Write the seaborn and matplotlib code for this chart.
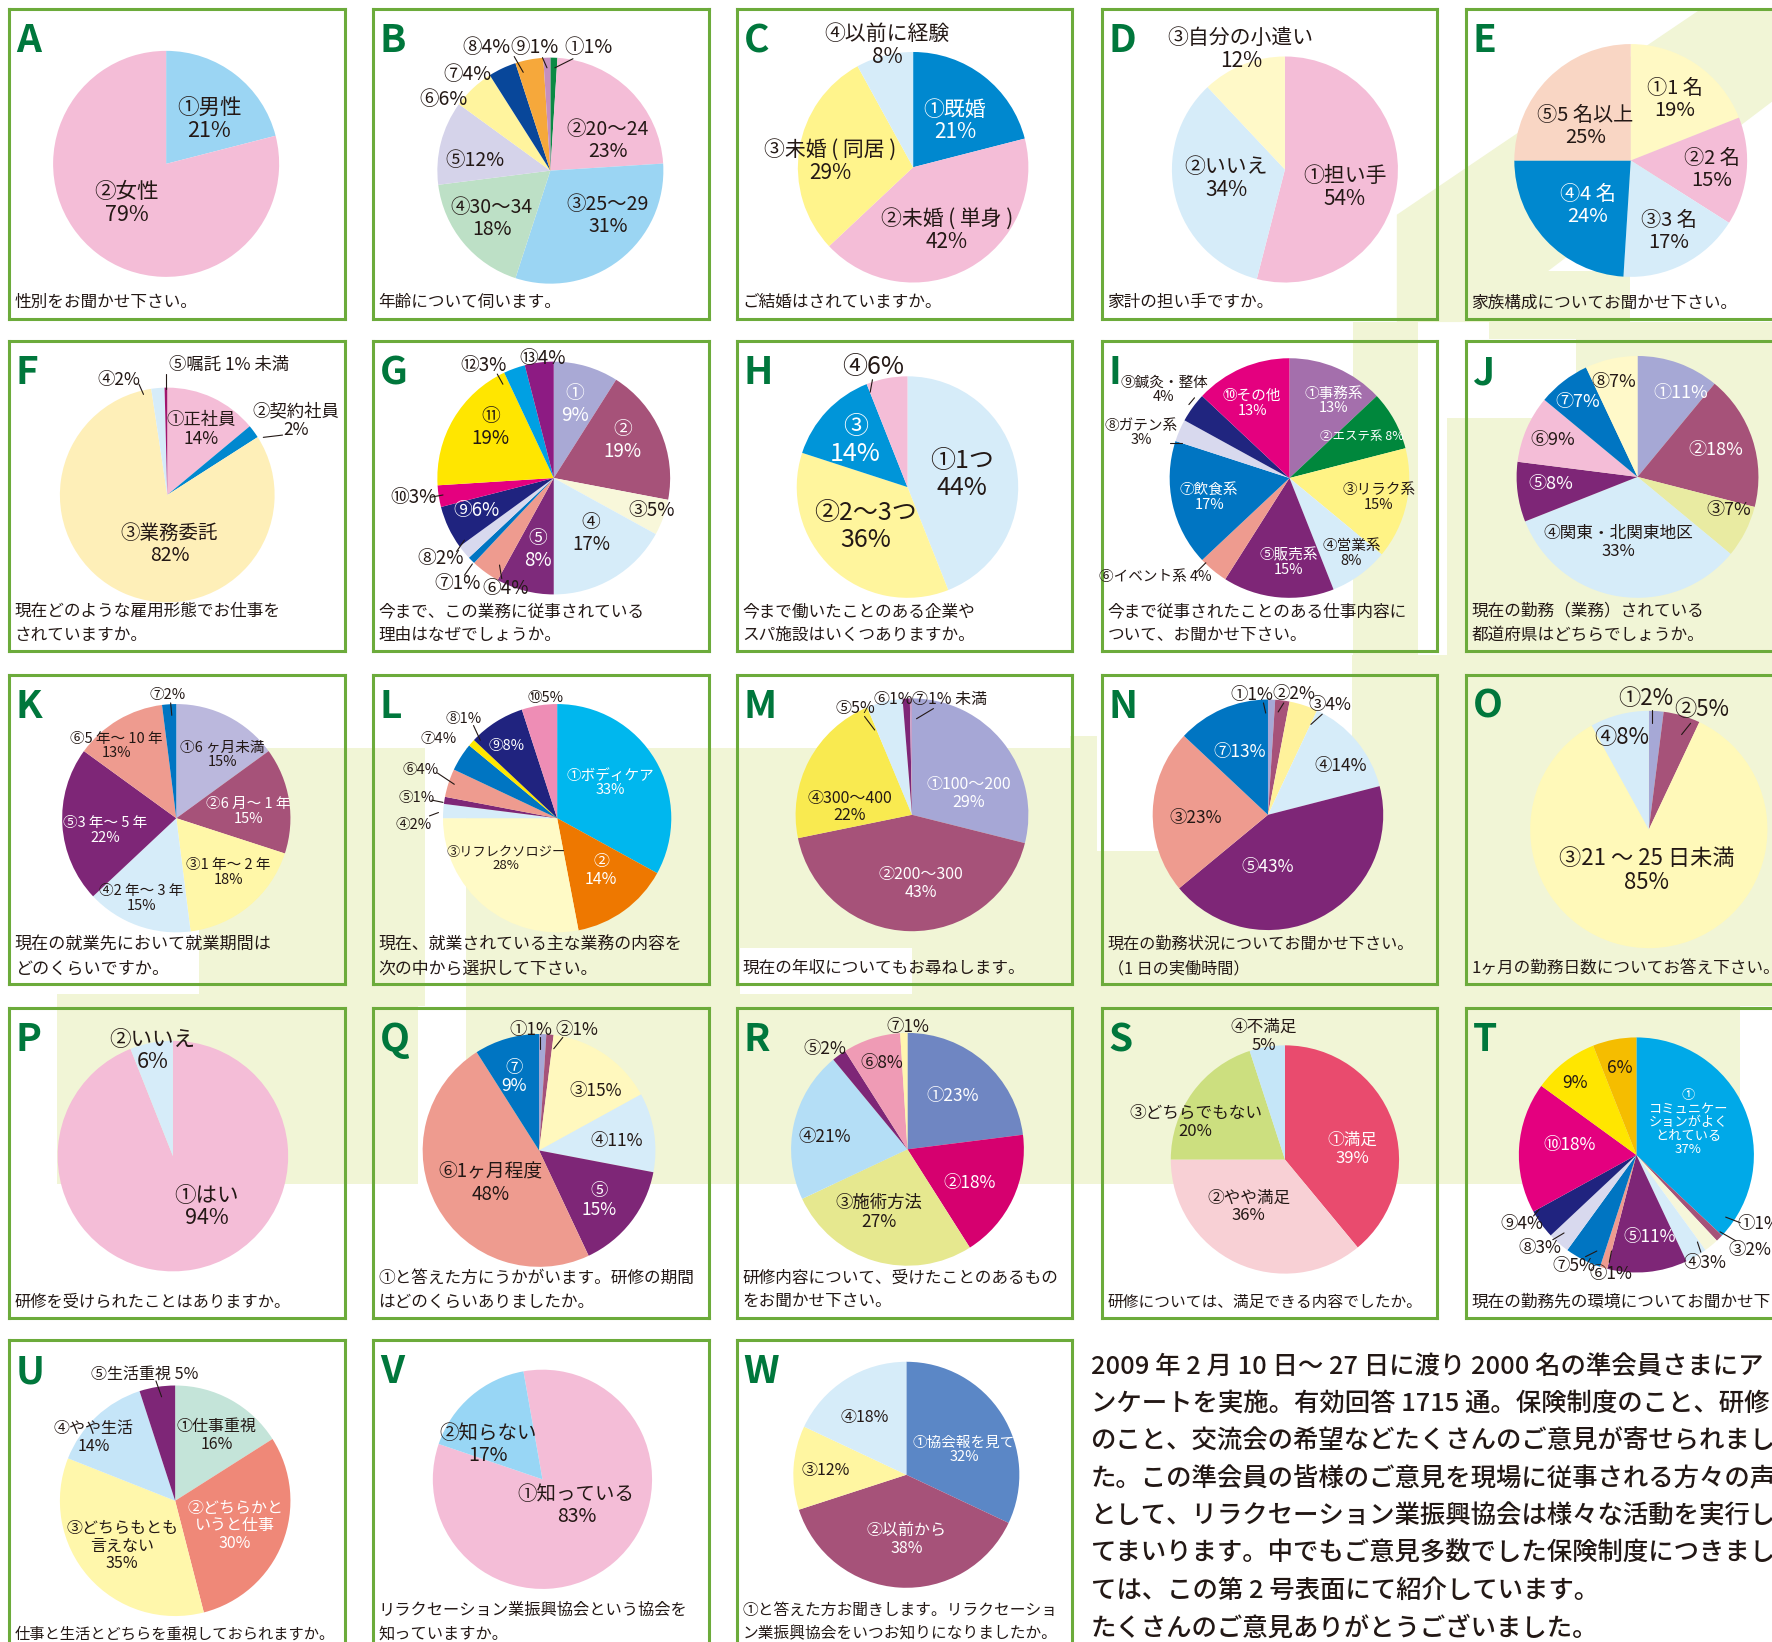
import numpy as np
import pandas as pd
import matplotlib
matplotlib.use("Agg")
import matplotlib.pyplot as plt
from matplotlib.patches import Rectangle, Polygon
import seaborn as sns

# ---------------------------------------------------------------- data
letters = list("ABCDEFGHIJKLMNOPQRSTUVW")
questions = [
    "性別をお聞かせ下さい。",
    "年齢について伺います。",
    "ご結婚はされていますか。",
    "家計の担い手ですか。",
    "家族構成についてお聞かせ下さい。",
    "現在どのような雇用形態でお仕事を\nされていますか。",
    "今まで、この業務に従事されている\n理由はなぜでしょうか。",
    "今まで働いたことのある企業や\nスパ施設はいくつありますか。",
    "今まで従事されたことのある仕事内容に\nついて、お聞かせ下さい。",
    "現在の勤務（業務）されている\n都道府県はどちらでしょうか。",
    "現在の就業先において就業期間は\nどのくらいですか。",
    "現在、就業されている主な業務の内容を\n次の中から選択して下さい。",
    "現在の年収についてもお尋ねします。",
    "現在の勤務状況についてお聞かせ下さい。\n（1 日の実働時間）",
    "1ヶ月の勤務日数についてお答え下さい。",
    "研修を受けられたことはありますか。",
    "①と答えた方にうかがいます。研修の期間\nはどのくらいありましたか。",
    "研修内容について、受けたことのあるもの\nをお聞かせ下さい。",
    "研修については、満足できる内容でしたか。",
    "現在の勤務先の環境についてお聞かせ下さい。",
    "仕事と生活とどちらを重視しておられますか。",
    "リラクセーション業振興協会という協会を\n知っていますか。",
    "①と答えた方お聞きします。リラクセーショ\nン業振興協会をいつお知りになりましたか。",
]

A_labels = ["①男性\n21%", "②女性\n79%"]
A_values = [21, 79]
A_colors = ["#9BD5F3", "#F4BDD7"]

B_labels = ["①1%", "②20～24\n23%", "③25～29\n31%", "④30～34\n18%", "⑤12%",
            "⑥6%", "⑦4%", "⑧4%", "⑨1%"]
B_values = [1, 23, 31, 18, 12, 6, 4, 4, 1]
B_colors = ["#0B8A45", "#F4BDD7", "#9BD5F3", "#BDE0C6", "#D5D3EA",
            "#FFF49E", "#08479A", "#F6A83B", "#C58FBF"]

C_labels = ["①既婚\n21%", "②未婚 ( 単身 )\n42%", "③未婚 ( 同居 )\n29%", "④以前に経験\n8%"]
C_values = [21, 42, 29, 8]
C_colors = ["#0088CF", "#F4BDD7", "#FFF48C", "#D6ECF9"]

D_labels = ["①担い手\n54%", "②いいえ\n34%", "③自分の小遣い\n12%"]
D_values = [54, 34, 12]
D_colors = ["#F4BDD7", "#D6ECF9", "#FFF9C8"]

E_labels = ["①1 名\n19%", "②2 名\n15%", "③3 名\n17%", "④4 名\n24%", "⑤5 名以上\n25%"]
E_values = [19, 15, 17, 24, 25]
E_colors = ["#FFF9C4", "#F4BDD7", "#D6ECF9", "#0088CF", "#F9D6C4"]

F_labels = ["①正社員\n14%", "②契約社員\n2%", "③業務委託\n82%", "④2%", "⑤嘱託 1% 未満"]
F_values = [14, 2, 82, 2, 0.4]
F_colors = ["#F4BDD7", "#0088CF", "#FEEFB8", "#D6ECF9", "#A0166E"]

G_labels = ["①\n9%", "②\n19%", "③5%", "④\n17%", "⑤\n8%", "⑥4%", "⑦1%", "⑧2%",
            "⑨6%", "⑩3%", "⑪\n19%", "⑫3%", "⑬4%"]
G_values = [9, 19, 5, 17, 8, 4, 1, 2, 6, 3, 19, 3, 4]
G_colors = ["#A9A9D5", "#A65279", "#F8F7DA", "#D6ECF9", "#7E2A7B", "#EE9B8F", "#0075C2",
            "#D8D9EE", "#1F237F", "#E5007F", "#FFE600", "#00A0E3", "#8D1B83"]

H_labels = ["①1つ\n44%", "②2～3つ\n36%", "③\n14%", "④6%"]
H_values = [44, 36, 14, 6]
H_colors = ["#D6ECF9", "#FFF59D", "#0095D9", "#F4BDD7"]

I_labels = ["①事務系\n13%", "②エステ系 8%", "③リラク系\n15%", "④営業系\n8%", "⑤販売系\n15%",
            "⑥イベント系 4%", "⑦飲食系\n17%", "⑧ガテン系\n3%", "⑨鍼灸・整体\n4%", "⑩その他\n13%"]
I_values = [13, 8, 15, 8, 15, 4, 17, 3, 4, 13]
I_colors = ["#A46FAC", "#00873C", "#FFF385", "#D6ECF9", "#7E2677",
            "#EE9B8F", "#0075C2", "#D8D9EE", "#20257F", "#E4007F"]

J_labels = ["①11%", "②18%", "③7%", "④関東・北関東地区\n33%", "⑤8%", "⑥9%", "⑦7%", "⑧7%"]
J_values = [11, 18, 7, 33, 8, 9, 7, 7]
J_colors = ["#A6A8D5", "#A65279", "#E9EBA2", "#D6ECF9", "#7E2677", "#F4BDD7", "#0075C2", "#FFF9C9"]

K_labels = ["①6 ヶ月未満\n15%", "②6 月～ 1 年\n15%", "③1 年～ 2 年\n18%", "④2 年～ 3 年\n15%",
            "⑤3 年～ 5 年\n22%", "⑥5 年～ 10 年\n13%", "⑦2%"]
K_values = [15, 15, 18, 15, 22, 13, 2]
K_colors = ["#BBB8DD", "#A65279", "#FFF7A8", "#D6ECF9", "#7E2677", "#EE9B8F", "#0075C2"]

L_labels = ["①ボディケア\n33%", "②\n14%", "③リフレクソロジー\n28%", "④2%", "⑤1%", "⑥4%",
            "⑦4%", "⑧1%", "⑨8%", "⑩5%"]
L_values = [33, 14, 28, 2, 1, 4, 4, 1, 8, 5]
L_colors = ["#00B7EE", "#EE7800", "#FFFAC6", "#D6ECF9", "#7E2677", "#EE9B8F",
            "#0075C2", "#FFE600", "#20237F", "#EE8DB5"]

M_labels = ["①100～200\n29%", "②200～300\n43%", "④300～400\n22%", "⑤5%", "⑥1%", "⑦1% 未満"]
M_values = [29, 43, 22, 5, 1, 0.3]
M_colors = ["#A6A7D6", "#A65279", "#F9EA50", "#D6ECF9", "#7E2677", "#C8A0C8"]

N_labels = ["①1%", "②2%", "③4%", "④14%", "⑤43%", "③23%", "⑦13%"]
N_values = [1, 2, 4, 14, 43, 23, 13]
N_colors = ["#A6A8D6", "#A65279", "#FFF29B", "#D6ECF9", "#7E2677", "#EE9B8F", "#0075C2"]

O_labels = ["①2%", "②5%", "③21 ～ 25 日未満\n85%", "④8%"]
O_values = [2, 5, 85, 8]
O_colors = ["#A6A8D6", "#A65279", "#FFF9B9", "#D6ECF9"]

P_labels = ["①はい\n94%", "②いいえ\n6%"]
P_values = [94, 6]
P_colors = ["#F4BDD7", "#D6ECF9"]

Q_labels = ["①1%", "②1%", "③15%", "④11%", "⑤\n15%", "⑥1ヶ月程度\n48%", "⑦\n9%"]
Q_values = [1, 1, 15, 11, 15, 48, 9]
Q_colors = ["#A6A8D6", "#A65279", "#FFF8BE", "#D6ECF9", "#7E2677", "#EE9B8F", "#0075C2"]

R_labels = ["①23%", "②18%", "③施術方法\n27%", "④21%", "⑤2%", "⑥8%", "⑦1%"]
R_values = [23, 18, 27, 21, 2, 8, 1]
R_colors = ["#6F86C2", "#D6006F", "#E6E88F", "#B4DEF6", "#7E2677", "#EF9BB5", "#FFF5B0"]

S_labels = ["①満足\n39%", "②やや満足\n36%", "③どちらでもない\n20%", "④不満足\n5%"]
S_values = [39, 36, 20, 5]
S_colors = ["#E94B6E", "#F8D0D5", "#CCDF7F", "#C5E6F8"]

T_labels = ["①\nコミュニケー\nションがよく\nとれている\n37%", "①1%", "③2%", "④3%", "⑤11%",
            "⑥1%", "⑦5%", "⑧3%", "⑨4%", "⑩18%", "9%", "6%"]
T_values = [37, 1, 2, 3, 11, 1, 5, 3, 4, 18, 9, 6]
T_colors = ["#00A9E8", "#A65279", "#F6F6DA", "#D6ECF9", "#7E2677", "#EE9B8F",
            "#0075C2", "#D8D9EE", "#20237F", "#E4007F", "#FFE600", "#F5BD00"]

U_labels = ["①仕事重視\n16%", "②どちらかと\nいうと仕事\n30%", "③どちらもとも\n言えない\n35%",
            "④やや生活\n14%", "⑤生活重視 5%"]
U_values = [16, 30, 35, 14, 5]
U_colors = ["#C4E4D9", "#EF8878", "#FFF7AB", "#C5E5F8", "#7E2677"]

V_labels = ["①知っている\n83%", "②知らない\n17%"]
V_values = [83, 17]
V_colors = ["#F4BDD7", "#98D6F5"]

W_labels = ["①協会報を見て\n32%", "②以前から\n38%", "③12%", "④18%"]
W_values = [32, 38, 12, 18]
W_colors = ["#5B87C6", "#A65279", "#FFF6A1", "#D6ECF9"]

intro_lines = [
    "2009 年 2 月 10 日～ 27 日に渡り 2000 名の準会員さまにア",
    "ンケートを実施。有効回答 1715 通。保険制度のこと、研修",
    "のこと、交流会の希望などたくさんのご意見が寄せられまし",
    "た。この準会員の皆様のご意見を現場に従事される方々の声",
    "として、リラクセーション業振興協会は様々な活動を実行し",
    "てまいります。中でもご意見多数でした保険制度につきまし",
    "ては、この第 2 号表面にて紹介しています。",
    "たくさんのご意見ありがとうございました。",
]

# ---------------------------------------------------------------- layout (reference px, 1568-wide)
W, H = 1772, 1642
S = W / 1568.0
COLS = [8, 330, 652, 975, 1297]
ROWS = [8, 302, 597, 892, 1186]
BW, BH = 297, 274
DARK = "#231815"
GREEN = "#00773C"
BOX = "#6CAB3B"
WM = "#F1F5D6"

LAYOUT = {
    'A': dict(cell=(0, 0), c=(147, 145), r=100, fs=15.5, tc='dd',
              pos=[(185, 106), (112, 180)]),
    'B': dict(cell=(1, 0), c=(487, 151), r=100, fs=14, tc='ddddddddd',
              pos=[(521, 42), (538, 124), (538, 191), (435, 193), (420, 142), (392, 88),
                   (414, 66), (430, 42), (473, 42)],
              lines=[((455, 50), (463, 64)), ((480, 51), (484, 60)), ((507, 52), (491, 60))]),
    'C': dict(cell=(2, 0), c=(808, 148), r=102, fs=15, tc='wddd',
              pos=[(845, 107), (838, 204), (735, 143), (785, 40)]),
    'D': dict(cell=(3, 0), c=(1137, 150), r=100, fs=15, tc='ddd',
              pos=[(1190, 166), (1085, 158), (1098, 44)]),
    'E': dict(cell=(4, 0), c=(1443, 142), r=103, fs=14.5, tc='dddwd',
              pos=[(1482, 88), (1515, 150), (1477, 205), (1405, 182), (1403, 112)]),
    'F': dict(cell=(0, 1), c=(148, 438), r=95, fs=12.5, sz={2: 14}, tc='ddddd',
              pos=[(178, 380), (262, 372), (150, 482), (105, 336), (203, 323)],
              lines=[((250, 385), (233, 387)), ((123, 340), (127, 349)), ((147, 331), (147, 344))]),
    'G': dict(cell=(1, 1), c=(490, 423), r=103, fs=13.5, tc='wwddwdddwdddd',
              pos=[(509, 358), (551, 390), (577, 452), (523, 472), (476, 486), (447, 521),
                   (405, 516), (390, 494), (422, 452), (366, 440), (434, 378), (428, 323), (480, 317)],
              lines=[((381, 440), (392, 438)), ((404, 488), (411, 478)), ((411, 509), (418, 499)),
                     ((444, 512), (442, 500)), ((440, 331), (445, 340))]),
    'H': dict(cell=(2, 1), c=(803, 431), r=98, fs=18, tc='ddwd',
              pos=[(851, 420), (766, 466), (757, 390), (773, 325)],
              lines=[((772, 336), (770, 347))]),
    'I': dict(cell=(3, 1), c=(1141, 423), r=106, fs=10.5, sz={1: 9}, tc='wwddwdwddw',
              pos=[(1180, 355), (1205, 386), (1220, 440), (1196, 490), (1140, 498), (1022, 511),
                   (1070, 440), (1010, 383), (1030, 345), (1108, 357)],
              lines=[((1058, 507), (1067, 498)), ((1035, 392), (1046, 392)), ((1052, 358), (1057, 352))]),
    'J': dict(cell=(4, 1), c=(1449, 422), r=107, fs=13, sz={3: 12}, tc='wwddwdwd',
              pos=[(1487, 348), (1518, 398), (1530, 451), (1432, 480), (1372, 428), (1374, 389),
                   (1396, 356), (1428, 338)]),
    'K': dict(cell=(0, 2), c=(156, 724), r=101, fs=10.5, tc='dwddwdd',
              pos=[(197, 668), (220, 718), (202, 772), (125, 795), (93, 735), (103, 660), (148, 615)],
              lines=[((151, 622), (152, 633))]),
    'L': dict(cell=(1, 2), c=(493, 724), r=101, fs=10.5, sz={1: 11.5, 2: 9.5}, tc='wwddddddwd',
              pos=[(540, 693), (532, 770), (448, 760), (366, 730), (369, 706), (372, 681),
                   (388, 654), (410, 636), (448, 660), (483, 618)],
              lines=[((380, 722), (388, 719)), ((382, 708), (392, 710)), ((387, 684), (402, 694)),
                     ((419, 642), (425, 655))]),
    'M': dict(cell=(2, 2), c=(807, 721), r=103, fs=11.5, tc='wwdddd',
              pos=[(857, 702), (815, 782), (752, 714), (757, 627), (790, 619), (840, 619)],
              lines=[((765, 634), (774, 646)), ((826, 627), (811, 636))]),
    'N': dict(cell=(3, 2), c=(1122, 721), r=102, fs=12.5, tc='ddddwdw',
              pos=[(1108, 615), (1145, 614), (1177, 624), (1186, 678), (1122, 767), (1058, 724),
                   (1097, 665)],
              lines=[((1118, 622), (1120, 631)), ((1136, 622), (1131, 630)), ((1170, 632), (1160, 641))]),
    'O': dict(cell=(4, 2), c=(1459, 734), r=105, fs=16, tc='dddd',
              pos=[(1456, 618), (1506, 628), (1457, 770), (1435, 653)],
              lines=[((1462, 628), (1462, 640)), ((1496, 640), (1488, 650))]),
    'P': dict(cell=(0, 3), c=(153, 1023), r=102, fs=15.5, tc='dd',
              pos=[(183, 1068), (135, 930)]),
    'Q': dict(cell=(1, 3), c=(477, 1018), r=103, fs=12.5, sz={5: 13.5}, tc='ddddwdw',
              pos=[(470, 911), (510, 911), (527, 965), (546, 1010), (530, 1062), (434, 1047), (455, 953)],
              lines=[((478, 918), (478, 928)), ((498, 918), (490, 928))]),
    'R': dict(cell=(2, 3), c=(803, 1017), r=103, fs=12.5, tc='wwddddd',
              pos=[(843, 970), (858, 1047), (778, 1073), (730, 1006), (730, 928), (780, 941), (803, 909)]),
    'S': dict(cell=(3, 3), c=(1137, 1026), r=101, fs=12, tc='wddd',
              pos=[(1197, 1017), (1105, 1068), (1058, 993), (1118, 917)]),
    'T': dict(cell=(4, 3), c=(1448, 1022), r=104, fs=12.5, sz={0: 9.5}, tc='wdddwddddwdd',
              pos=[(1494, 993), (1556, 1083), (1548, 1106), (1509, 1118), (1460, 1095), (1425, 1127),
                   (1393, 1120), (1363, 1104), (1347, 1083), (1389, 1013), (1394, 958), (1433, 945)],
              lines=[((1540, 1082), (1527, 1077)), ((1536, 1098), (1522, 1090)), ((1505, 1108), (1502, 1099)),
                     ((1424, 1117), (1426, 1107)), ((1403, 1112), (1413, 1107)), ((1374, 1097), (1384, 1091)),
                     ((1357, 1076), (1362, 1070))]),
    'U': dict(cell=(0, 4), c=(155, 1328), r=102, fs=11.5, tc='dwddd',
              pos=[(192, 1270), (208, 1350), (108, 1368), (83, 1272), (128, 1216)],
              lines=[((138, 1222), (143, 1236))]),
    'V': dict(cell=(1, 4), c=(480, 1309), r=97, fs=14, start=100, tc='dd',
              pos=[(510, 1332), (432, 1278)]),
    'W': dict(cell=(2, 4), c=(802, 1305), r=100, fs=11.5, sz={0: 10.5}, tc='wwdd',
              pos=[(853, 1283), (802, 1362), (731, 1301), (765, 1254)]),
}
Q_FS = [12, 12, 12, 12, 12, 12, 12, 12, 12, 12, 12.3, 12.2, 12, 11.6, 12,
        11.7, 12, 12, 11.3, 12, 11, 11.7, 11.3]

# ---------------------------------------------------------------- figure
sns.set_theme(style="white")
plt.rcParams['font.family'] = ['Noto Sans CJK JP', 'DejaVu Sans']

fig = plt.figure(figsize=(W / 100, H / 100), dpi=100, facecolor='white')


def fx(x):
    return x * S / W


def fy(y):
    return 1 - y * S / H


# faint background watermark
wm_rects = [
    (176, 662, 200, 228), (412, 662, 243, 228), (655, 662, 152, 177), (807, 662, 140, 228),
    (947, 651, 24, 239), (971, 753, 225, 137), (1196, 580, 372, 310),
    (50, 880, 320, 168), (412, 880, 1128, 168),
    (1197, 285, 58, 300), (1280, 370, 288, 215), (1395, 285, 173, 90), (1318, 240, 124, 60),
]
for (x, y, w, h) in wm_rects:
    fig.add_artist(Rectangle((fx(x), fy(y + h)), w * S / W, h * S / H, transform=fig.transFigure,
                             facecolor=WM, edgecolor='none', zorder=-10))
diag = [(1236, 285), (1236, 190), (1505, 8), (1568, 8), (1568, 90), (1330, 270), (1330, 285)]
fig.add_artist(Polygon([(fx(x), fy(y)) for x, y in diag], closed=True, transform=fig.transFigure,
                       facecolor=WM, edgecolor='none', zorder=-10))

panels = [
    ('A', A_labels, A_values, A_colors), ('B', B_labels, B_values, B_colors),
    ('C', C_labels, C_values, C_colors), ('D', D_labels, D_values, D_colors),
    ('E', E_labels, E_values, E_colors), ('F', F_labels, F_values, F_colors),
    ('G', G_labels, G_values, G_colors), ('H', H_labels, H_values, H_colors),
    ('I', I_labels, I_values, I_colors), ('J', J_labels, J_values, J_colors),
    ('K', K_labels, K_values, K_colors), ('L', L_labels, L_values, L_colors),
    ('M', M_labels, M_values, M_colors), ('N', N_labels, N_values, N_colors),
    ('O', O_labels, O_values, O_colors), ('P', P_labels, P_values, P_colors),
    ('Q', Q_labels, Q_values, Q_colors), ('R', R_labels, R_values, R_colors),
    ('S', S_labels, S_values, S_colors), ('T', T_labels, T_values, T_colors),
    ('U', U_labels, U_values, U_colors), ('V', V_labels, V_values, V_colors),
    ('W', W_labels, W_values, W_colors),
]

for i, (letter, labels, values, colors) in enumerate(panels):
    L = LAYOUT[letter]
    col, row = L['cell']
    x0, y0 = COLS[col], ROWS[row]
    cx, cy = L['c']
    r = L['r']
    ax = fig.add_axes([fx(x0), fy(y0 + BH), BW * S / W, BH * S / H])
    ax.set_facecolor('none')
    df = pd.DataFrame({'label': labels, 'value': values, 'color': colors})
    ax.pie(df['value'], colors=df['color'], startangle=L.get('start', 90), counterclock=False,
           radius=1, center=(0, 0), wedgeprops=dict(linewidth=0), frame=True)

    def to_data(x, y):
        return ((x - cx) / r, (cy - y) / r)

    ax.text(*to_data(x0 + 6, y0 + 28), letter, fontsize=28, fontweight='bold', color=GREEN,
            ha='left', va='center')
    for k, line in enumerate(reversed(questions[i].split('\n'))):
        ax.text(*to_data(x0 + 5, y0 + BH - 14 - 21 * k), line, fontsize=Q_FS[i], color=DARK,
                ha='left', va='center')
    for k, (lab, (px_, py_)) in enumerate(zip(df['label'], L['pos'])):
        fs = L.get('sz', {}).get(k, L['fs'])
        tcol = 'white' if L['tc'][k] == 'w' else DARK
        ax.text(*to_data(px_, py_), lab, fontsize=fs, color=tcol, ha='center', va='center',
                linespacing=1.05)
    for (a, b) in L.get('lines', []):
        (xa, ya), (xb, yb) = to_data(*a), to_data(*b)
        ax.plot([xa, xb], [ya, yb], color=DARK, lw=0.8)

    ax.set_aspect('auto')
    ax.set_xlim((x0 - cx) / r, (x0 + BW - cx) / r)
    ax.set_ylim((cy - (y0 + BH)) / r, (cy - y0) / r)
    ax.set_xticks([])
    ax.set_yticks([])
    ax.set_frame_on(True)
    for s in ax.spines.values():
        s.set_visible(True)
        s.set_color(BOX)
        s.set_linewidth(2.2)

# introduction text block
for k, line in enumerate(intro_lines):
    fig.text(fx(965), fy(1210 + 33 * k), line, fontsize=18.3, color=DARK, ha='left', va='center',
             fontweight='medium')

fig.savefig("out.png", dpi=100, facecolor='white')
